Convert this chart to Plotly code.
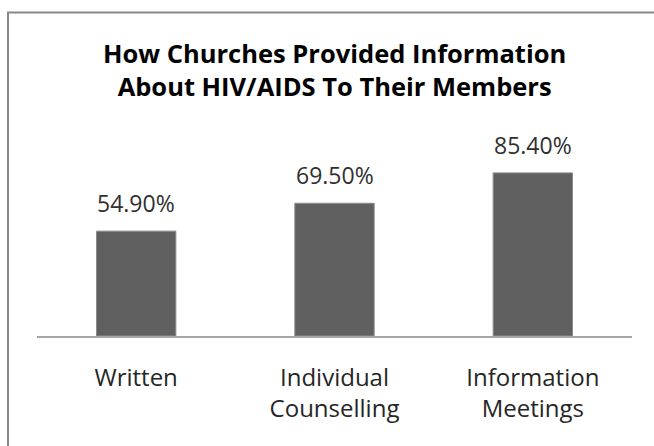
import plotly.graph_objects as go

# Survey results: share of churches using each channel
categories = ["Written", "Individual<br>Counselling", "Information<br>Meetings"]
values = [54.9, 69.5, 85.4]
value_labels = [f"{v:.2f}%" for v in values]
title_text = "<b>How Churches Provided Information<br>About HIV/AIDS To Their Members</b>"

W, H = 654, 446
ML, MR, MT, MB = 37, 22, 145, 110
plot_w = W - ML - MR
plot_h = H - MT - MB

FONT = "Open Sans, Carlito, Calibri, sans-serif"


def px_to_paper_x(px):
    return (px - ML) / plot_w


def px_to_paper_y(py):
    return (H - MB - py) / plot_h


fig = go.Figure()
fig.add_trace(go.Bar(
    x=categories,
    y=values,
    marker=dict(color="#606060", line=dict(color="#8a8a8a", width=1)),
    width=0.4,
    hoverinfo="skip",
))

# Value labels sitting above each bar
for c, v, t in zip(categories, values, value_labels):
    fig.add_annotation(x=c, y=v, text=t, showarrow=False, yanchor="bottom",
                       yshift=10, font=dict(family=FONT, size=23, color="#303030"))

# Two-line chart title
fig.add_annotation(xref="paper", yref="paper", x=0.5, y=px_to_paper_y(69),
                   text=title_text, showarrow=False, yanchor="middle",
                   font=dict(family=FONT, size=25.5, color="#000000"))

# Outer chart frame (left and top edges visible)
frame = dict(type="line", xref="paper", yref="paper",
             line=dict(color="#888888", width=2))
fig.add_shape(**frame, x0=px_to_paper_x(8), x1=px_to_paper_x(8),
              y0=px_to_paper_y(12.5), y1=px_to_paper_y(460))
fig.add_shape(**frame, x0=px_to_paper_x(7), x1=px_to_paper_x(670),
              y0=px_to_paper_y(12.5), y1=px_to_paper_y(12.5))

fig.update_layout(
    width=W, height=H,
    margin=dict(l=ML, r=MR, t=MT, b=MB),
    paper_bgcolor="white", plot_bgcolor="white",
    showlegend=False,
    bargap=0.6,
    xaxis=dict(
        showline=True, linecolor="#a6a6a6", linewidth=1.5,
        ticks="", showgrid=False,
        tickfont=dict(family=FONT, size=24, color="#262626"),
        ticklabelstandoff=19,
    ),
    yaxis=dict(range=[0, 100], visible=False, showgrid=False, fixedrange=True),
)

fig.write_html("out.html")
